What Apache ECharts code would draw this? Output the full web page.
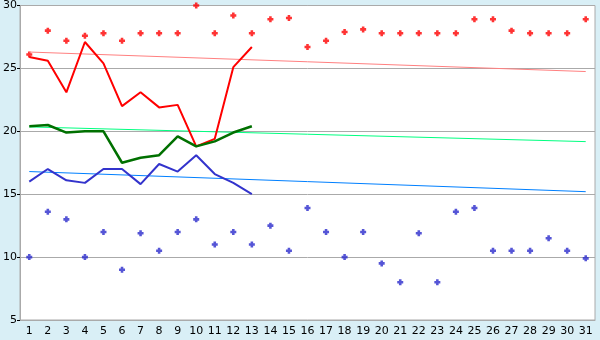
<!DOCTYPE html>
<html>
<head>
<meta charset="utf-8">
<script src="https://cdn.jsdelivr.net/npm/echarts@6/dist/echarts.min.js"></script>
<style>
html,body{margin:0;padding:0;background:#d9eff6;}
#c{width:600px;height:340px;}
</style>
</head>
<body>
<div id="c"></div>
<script>
const days = ['1','2','3','4','5','6','7','8','9','10','11','12','13','14','15','16','17','18','19','20','21','22','23','24','25','26','27','28','29','30','31'];
const maxDots = [26.1,28.0,27.2,27.6,27.8,27.2,27.8,27.8,27.8,30.0,27.8,29.2,27.8,28.9,29.0,26.7,27.2,27.9,28.1,27.8,27.8,27.8,27.8,27.8,28.9,28.9,28.0,27.8,27.8,27.8,28.9];
const minDots = [10.0,13.6,13.0,10.0,12.0,9.0,11.9,10.5,12.0,13.0,11.0,12.0,11.0,12.5,10.5,13.9,12.0,10.0,12.0,9.5,8.0,11.9,8.0,13.6,13.9,10.5,10.5,10.5,11.5,10.5,9.9];
const redLine = [25.9,25.6,23.1,27.1,25.4,22.0,23.1,21.9,22.1,18.8,19.4,25.1,26.7];
const greenLine = [20.4,20.5,19.9,20.0,20.0,17.5,17.9,18.1,19.6,18.8,19.2,19.9,20.4];
const blueLine = [16.0,17.0,16.1,15.9,17.0,17.0,15.8,17.4,16.8,18.1,16.6,15.9,15.0];
// trend lines: values read at day 1 and day 31
const redTrend = [26.3, 24.75];
const greenTrend = [20.35, 19.18];
const blueTrend = [16.8, 15.2];
const yTicks = [5, 10, 15, 20, 25, 30];

function trend(pair){
  const a = days.map(()=>null);
  a[0] = pair[0]; a[days.length-1] = pair[1];
  return a;
}
const plus = 'path://M2,0H5V2H7V5H5V7H2V5H0V2H2Z';

const chart = echarts.init(document.getElementById('c'), null, {renderer:'canvas'});
chart.setOption({
  backgroundColor: '#d9eff6',
  animation: false,
  grid: {left:20, right:5, top:5, bottom:20, show:true, backgroundColor:'#ffffff', borderColor:'#aaaaaa', borderWidth:1},
  xAxis: {
    type:'category', data: days, boundaryGap:true,
    axisLine:{lineStyle:{color:'#aaaaaa'}},
    axisTick:{alignWithLabel:true, length:5, lineStyle:{color:'#000'}},
    axisLabel:{color:'#000', fontFamily:'DejaVu Sans', fontSize:11, margin:6, interval:0},
    splitLine:{show:false}
  },
  yAxis: {
    type:'value', min: yTicks[0], max: yTicks[yTicks.length-1], interval:5,
    axisLine:{show:true, lineStyle:{color:'#aaaaaa'}},
    axisTick:{show:true, length:3, lineStyle:{color:'#000'}},
    axisLabel:{color:'#000', fontFamily:'DejaVu Sans', fontSize:11, margin:3},
    splitLine:{lineStyle:{color:'#aaaaaa', width:1}}
  },
  series: [
    {type:'line', data: trend(redTrend), connectNulls:true, showSymbol:false, lineStyle:{color:'#ff8080', width:1}, silent:true},
    {type:'line', data: trend(greenTrend), connectNulls:true, showSymbol:false, lineStyle:{color:'#00ff80', width:1}, silent:true},
    {type:'line', data: trend(blueTrend), connectNulls:true, showSymbol:false, lineStyle:{color:'#0080ff', width:1}, silent:true},
    {type:'line', data: redLine, showSymbol:false, lineStyle:{color:'#ff0000', width:2}},
    {type:'line', data: greenLine, showSymbol:false, lineStyle:{color:'#007000', width:2.5}},
    {type:'line', data: blueLine, showSymbol:false, lineStyle:{color:'#3333cc', width:2}},
    {type:'scatter', data: maxDots, symbol: plus, symbolSize:6, clip:false, itemStyle:{color:'#ff0000'}},
    {type:'scatter', data: minDots, symbol: plus, symbolSize:6, clip:false, itemStyle:{color:'#2a2acc'}}
  ]
});
</script>
</body>
</html>
